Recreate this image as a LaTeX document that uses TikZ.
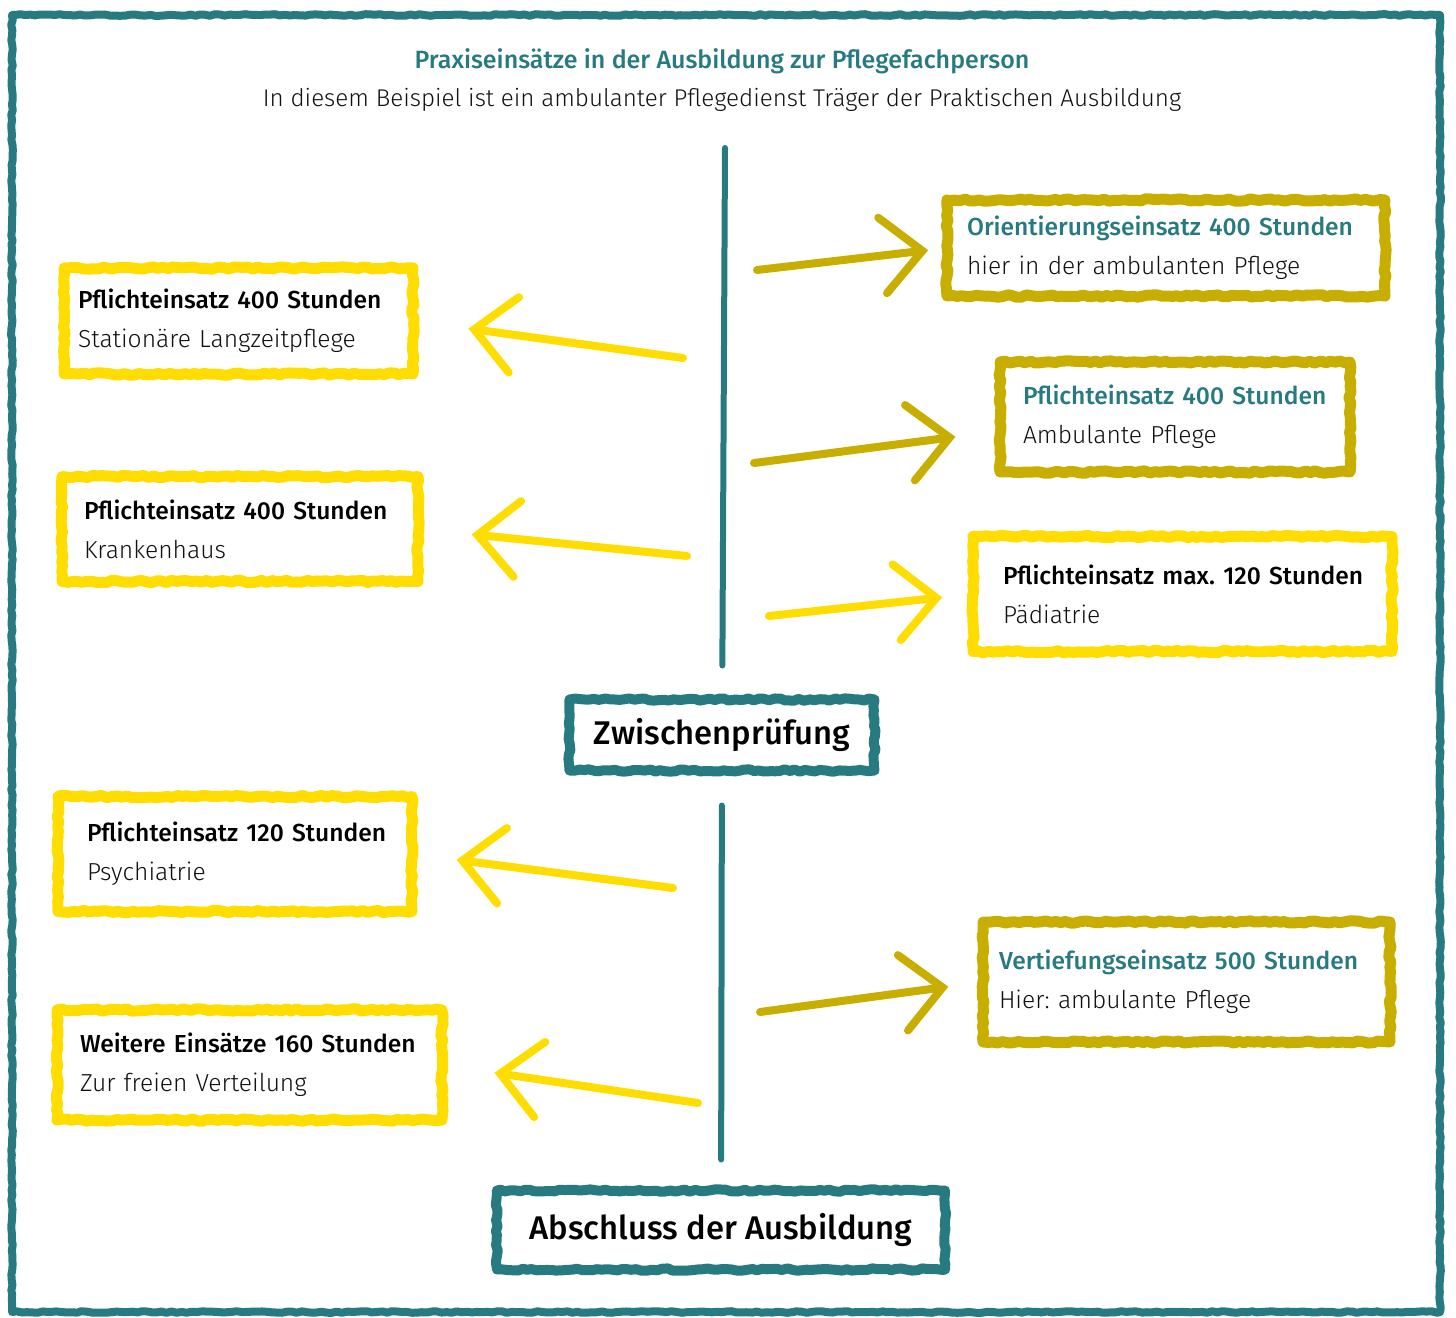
\documentclass[tikz,border=0pt]{standalone}
\usepackage{fontspec}
\setmainfont{Fira Sans Light}[BoldFont={Fira Sans Medium}]
\usetikzlibrary{arrows.meta,decorations.pathmorphing}
\definecolor{pfteal}{HTML}{267A80}
\definecolor{pfsenf}{HTML}{C8AE00}
\definecolor{pfgelb}{HTML}{FFDD00}
\definecolor{pftext}{HTML}{111111}
\frenchspacing
\begin{document}
\begin{tikzpicture}[x=0.5pt,y=-0.5pt,
  kreide/.style={decorate,decoration={random steps,segment length=2.5pt,amplitude=0.6pt},line join=round},
  karte/.style={kreide,draw,line width=5.5pt,align=left,anchor=west,inner ysep=0pt,outer sep=0pt,
    text=pftext,font=\fontsize{12.3}{19.5}\selectfont},
  pruefung/.style={kreide,draw=pfteal,line width=5pt,inner sep=0pt,outer sep=0pt,
    font=\fontsize{16.4}{20}\selectfont\bfseries},
  stamm/.style={pfteal,line width=3pt,line cap=round},
  pfeil/.style={line width=4pt,line cap=round,line join=round,
    -{Straight Barb[length=20pt,width=38pt,line cap=round]}}]
\useasboundingbox (0,0) rectangle (1456,1317);
% Rahmen
\draw[kreide,decoration={amplitude=0.4pt},pfteal,line width=4pt] (12,15) rectangle (1440,1312);
% Titel
\node[anchor=base,text=pfteal,font=\fontsize{12.5}{15}\selectfont\bfseries] (titel) at (722,68)
  {Praxiseinsätze in der Ausbildung zur Pflegefachperson};
\node[anchor=base,text=pftext,font=\fontsize{12.1}{15}\selectfont] (untertitel) at (722,106)
  {In diesem Beispiel ist ein ambulanter Pflegedienst Träger der Praktischen Ausbildung};
% Pruefungen
\node[pruefung,minimum width=152.5pt,minimum height=35.5pt] (zwischen) at (722,735) {Zwischenprüfung};
\node[pruefung,minimum width=224pt,minimum height=39.5pt] (abschluss) at (721,1230) {Abschluss der Ausbildung};
\coordinate (oben) at (725,148);
\draw[stamm,shorten >=17pt] (oben) -- (zwischen);
\draw[stamm,shorten <=17.5pt,shorten >=15.5pt] (zwischen) -- (abschluss);
% Einsaetze links
\node[karte,draw=pfgelb,inner xsep=7pt,text width=160.5pt,minimum height=53pt] (langzeit) at (64,321)
  {\mbox{\bfseries\color{black}Pflichteinsatz 400 Stunden}\\\mbox{Stationäre Langzeitpflege}};
\node[karte,draw=pfgelb,inner xsep=11pt,text width=156pt,minimum height=52.5pt] (krankenhaus) at (62,529)
  {\mbox{\bfseries\color{black}Pflichteinsatz 400 Stunden}\\\mbox{Krankenhaus}};
\node[karte,draw=pfgelb,inner xsep=14.5pt,text width=148pt,minimum height=57.5pt] (psychiatrie) at (58,854)
  {\mbox{\bfseries\color{black}Pflichteinsatz 120 Stunden}\\\mbox{Psychiatrie}};
\node[karte,draw=pfgelb,inner xsep=11.5pt,text width=169.5pt,minimum height=55pt] (weitere) at (57,1065)
  {\mbox{\bfseries\color{black}Weitere Einsätze 160 Stunden}\\\mbox{Zur freien Verteilung}};
% Einsaetze rechts
\node[karte,draw=pfsenf,inner xsep=10pt,text width=199pt,minimum height=48pt] (orientierung) at (947,248)
  {\mbox{\bfseries\color{pfteal}Orientierungseinsatz 400 Stunden}\\\mbox{hier in der ambulanten Pflege}};
\node[karte,draw=pfsenf,inner xsep=11.5pt,text width=152pt,minimum height=55pt] (ambulant) at (1000,417)
  {\mbox{\bfseries\color{pfteal}Pflichteinsatz 400 Stunden}\\\mbox{Ambulante Pflege}};
\node[karte,draw=pfgelb,inner xsep=15pt,text width=179.5pt,minimum height=57.5pt] (paediatrie) at (973,594)
  {\mbox{\bfseries\color{black}Pflichteinsatz max. 120 Stunden}\\\mbox{Pädiatrie}};
\node[karte,draw=pfsenf,inner xsep=8pt,text width=187.5pt,minimum height=60pt] (vertiefung) at (983,982)
  {\mbox{\bfseries\color{pfteal}Vertiefungseinsatz 500 Stunden}\\\mbox{Hier: ambulante Pflege}};
% Pfeile
\coordinate (a1) at (683,358);
\coordinate (a2) at (687,556);
\coordinate (a3) at (673,888);
\coordinate (a4) at (698,1103);
\coordinate (b1) at (757,270);
\coordinate (b2) at (754,463);
\coordinate (b3) at (769,616);
\coordinate (b4) at (760,1012);
\draw[pfeil,pfgelb,shorten >=28pt] (a1) -- (langzeit.east);
\draw[pfeil,pfgelb,shorten >=27pt] (a2) -- (krankenhaus.east);
\draw[pfeil,pfgelb,shorten >=22.5pt] (a3) -- (psychiatrie.east);
\draw[pfeil,pfgelb,shorten >=26.5pt] (a4) -- (weitere.east);
\draw[pfeil,pfsenf,shorten >=9.5pt] (b1) -- (orientierung.west);
\draw[pfeil,pfsenf,shorten >=22.5pt] (b2) -- ([yshift=-7pt]ambulant.west);
\draw[pfeil,pfgelb,shorten >=15.5pt] (b3) -- (paediatrie.west);
\draw[pfeil,pfsenf,shorten >=17.5pt] (b4) -- (vertiefung.west);
\end{tikzpicture}
\end{document}
